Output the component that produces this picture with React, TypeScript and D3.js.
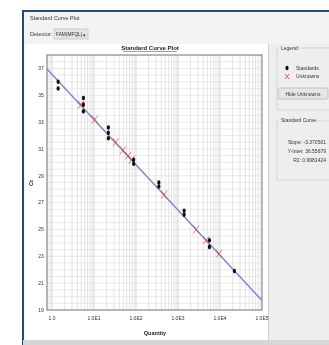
import React from 'react';
import * as d3 from 'd3';

// standards (black dots): quantity and Ct, replicates share a quantity
const stdQuantity = [1.4, 1.4, 5.6, 5.6, 5.6, 22, 22, 22, 88, 88, 350, 350, 1400, 1400, 5600, 5600, 22000];
const stdCt = [36.0, 35.5, 34.8, 34.3, 33.8, 32.6, 32.2, 31.8, 30.2, 29.9, 28.5, 28.2, 26.4, 26.1, 24.2, 23.7, 21.9];

// unknowns (red crosses)
const unkQuantity = [4.9, 10.5, 33, 49, 65, 79, 470, 2700, 4700, 9500];
const unkCt = [34.3, 33.2, 31.5, 30.9, 30.5, 30.2, 27.6, 25.0, 24.2, 23.2];

const xTickValues = [1, 10, 100, 1000, 10000, 100000];
const xTickLabels = ['1.0', '1.0E1', '1.0E2', '1.0E3', '1.0E4', '1.0E5'];
const yTickValues = [19, 21, 23, 25, 27, 29, 31, 33, 35, 37];

const slope = -3.370501;
const yInter = 36.55679;
const r2 = '0.9981424';

const font = 'Liberation Sans, Arial, sans-serif';

export default function App() {
  const left = 47, right = 262, top = 55, bottom = 310;
  const x = d3.scaleLog().domain([0.76, 100000]).range([left, right]);
  const y = d3.scaleLinear().domain([19, 38]).range([bottom, top]);

  // log minor grid
  const vGrid: number[] = [];
  for (let e = -1; e < 5; e++) {
    for (let m = 1; m < 10; m++) {
      const v = m * Math.pow(10, e);
      if (v >= 0.76 && v <= 100000) vGrid.push(v);
    }
  }
  const hGrid = d3.range(19, 38.01, 0.5);

  const fitLine = d3.line<number>()
    .x(d => x(d))
    .y(d => y(yInter + slope * Math.log10(d)));

  return (
    <svg width={329} height={345} style={{ position: 'absolute', left: 0, top: 0 }} fontFamily={font}>
      <defs>
        <filter id="soft" x="0" y="0" width="1" height="1">
          <feGaussianBlur stdDeviation="0.45" />
        </filter>
        <clipPath id="plotClip">
          <rect x={left} y={top} width={right - left} height={bottom - top} />
        </clipPath>
      </defs>
      <g filter="url(#soft)">
        <rect x={0} y={0} width={329} height={345} fill="#ffffff" />
        {/* window */}
        <rect x={23} y={11} width={310} height={340} fill="#f3f3f3" stroke="#274a7a" strokeWidth={2} />
        <text x={30} y={20} fontSize={5.5} fill="#333">Standard Curve Plot</text>
        <text x={30} y={36} fontSize={5.5} fill="#333">Detector:</text>
        <rect x={54} y={29} width={34} height={10} fill="#e4e4e4" stroke="#b8b8b8" strokeWidth={0.6} />
        <text x={56} y={36} fontSize={4.8} fill="#333">FAM(MFQL)</text>
        <text x={83} y={36.5} fontSize={4.5} fill="#333">▾</text>

        {/* chart panel */}
        <rect x={25} y={44} width={243} height={296} fill="#ffffff" />
        <rect x={269} y={44} width={60} height={296} fill="#eeeeee" />
        <line x1={268.5} y1={44} x2={268.5} y2={340} stroke="#cfcfcf" strokeWidth={1} />
        <rect x={23} y={340} width={306} height={5} fill="#d6d6d6" />

        <text x={150} y={50} fontSize={6} fontWeight="bold" textAnchor="middle" fill="#222">Standard Curve Plot</text>
        <line x1={123} y1={51.5} x2={177} y2={51.5} stroke="#444" strokeWidth={0.5} />

        {/* plot area */}
        <rect x={left} y={top} width={right - left} height={bottom - top} fill="#ffffff" />
        <g clipPath="url(#plotClip)">
          {hGrid.map((v, i) => (
            <line key={'h' + i} x1={left} x2={right} y1={y(v)} y2={y(v)} stroke="#dedede" strokeWidth={0.6} />
          ))}
          {vGrid.map((v, i) => (
            <line key={'v' + i} x1={x(v)} x2={x(v)} y1={top} y2={bottom}
              stroke={Math.abs(Math.log10(v) % 1) < 1e-9 ? '#c4c4c4' : '#d8d8d8'} strokeWidth={0.7} />
          ))}
          <path d={fitLine([0.76, 100000]) || ''} fill="none" stroke="#7c82c8" strokeWidth={1.4} />
          {unkQuantity.map((q, i) => {
            const cx = x(q), cy = y(unkCt[i]);
            return (
              <g key={'u' + i} stroke="#e0383a" strokeWidth={0.8} opacity={0.85}>
                <line x1={cx - 3} y1={cy - 4} x2={cx + 3} y2={cy + 4} />
                <line x1={cx + 3} y1={cy - 4} x2={cx - 3} y2={cy + 4} />
              </g>
            );
          })}
          {stdQuantity.map((q, i) => (
            <ellipse key={'s' + i} cx={x(q)} cy={y(stdCt[i])} rx={1.6} ry={2.3} fill="#111" />
          ))}
        </g>
        <rect x={left} y={top} width={right - left} height={bottom - top} fill="none" stroke="#8a8a8a" strokeWidth={1.2} />

        {/* axes */}
        {yTickValues.map(v => (
          <text key={'yt' + v} x={41} y={y(v) + 1.8} fontSize={5} textAnchor="middle" fill="#333">{v}</text>
        ))}
        {xTickValues.map((v, i) => (
          <text key={'xt' + v} x={x(v)} y={bottom + 10} fontSize={5} textAnchor="middle" fill="#333">{xTickLabels[i]}</text>
        ))}
        <text x={155} y={335} fontSize={5.5} fontWeight="bold" textAnchor="middle" fill="#222">Quantity</text>
        <text transform="translate(33,183) rotate(-90)" fontSize={5.5} fontWeight="bold" textAnchor="middle" fill="#222">Ct</text>

        {/* legend panel */}
        <rect x={277} y={48} width={56} height={62} fill="none" stroke="#cccccc" strokeWidth={0.7} />
        <rect x={279} y={45} width={14} height={6} fill="#eeeeee" />
        <text x={281} y={50} fontSize={5} fill="#333">Legend</text>
        <ellipse cx={287} cy={68} rx={1.6} ry={2.3} fill="#111" />
        <text x={296} y={70} fontSize={5} fill="#333">Standards</text>
        <g stroke="#e0383a" strokeWidth={0.8}>
          <line x1={285} y1={74} x2={289} y2={79} />
          <line x1={289} y1={74} x2={285} y2={79} />
        </g>
        <text x={296} y={78} fontSize={5} fill="#333">Unknowns</text>
        <rect x={278} y={88} width={50} height={11} rx={1.5} fill="#e6e6e6" stroke="#a8a8a8" strokeWidth={0.6} />
        <text x={303} y={95.5} fontSize={5} textAnchor="middle" fill="#333">Hide Unknowns</text>

        <rect x={277} y={121} width={56} height={59} fill="none" stroke="#cccccc" strokeWidth={0.7} />
        <rect x={279} y={117} width={34} height={7} fill="#eeeeee" />
        <text x={281} y={122} fontSize={5} fill="#333">Standard Curve</text>
        <text x={326} y={144} fontSize={5} textAnchor="end" fill="#333">Slope: {slope.toFixed(6)}</text>
        <text x={326} y={153} fontSize={5} textAnchor="end" fill="#333">Y-Inter: {yInter.toFixed(5)}</text>
        <text x={326} y={162} fontSize={5} textAnchor="end" fill="#333">R2: {r2}</text>
      </g>
    </svg>
  );
}
